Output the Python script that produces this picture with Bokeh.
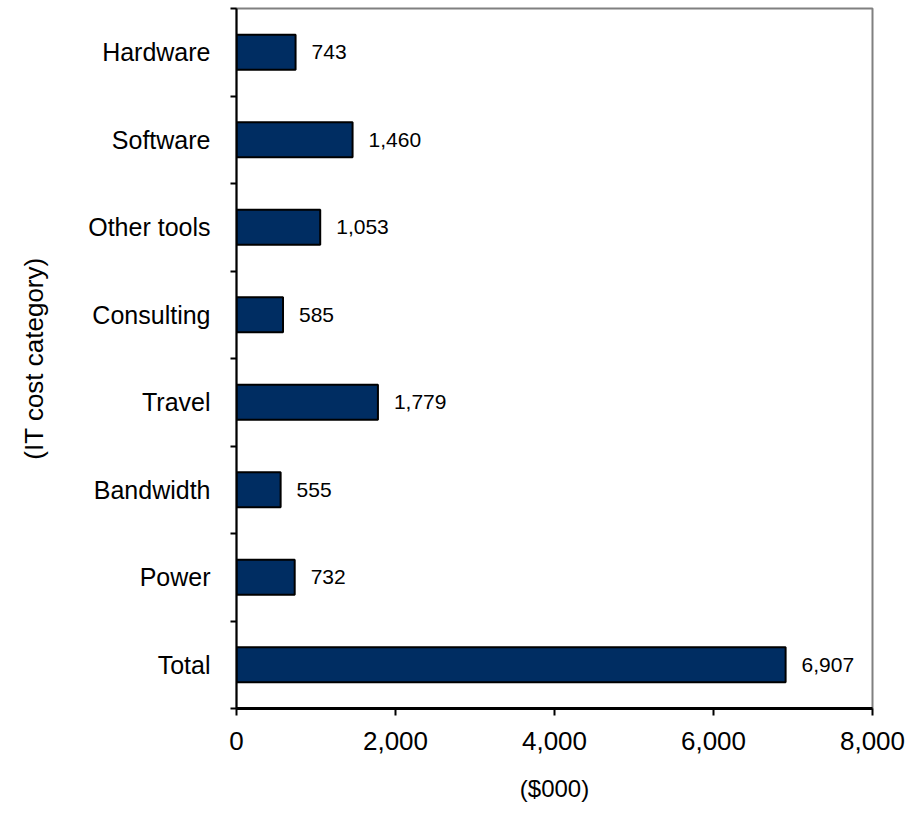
from bokeh.plotting import figure
from bokeh.models import ColumnDataSource, FixedTicker, NumeralTickFormatter, Range1d, LabelSet
from bokeh.core.properties import value
from bokeh.embed import file_html
from bokeh.resources import INLINE

categories = ["Hardware", "Software", "Other tools", "Consulting", "Travel", "Bandwidth", "Power", "Total"]
values = [743, 1460, 1053, 585, 1779, 555, 732, 6907]
x_ticks = [0, 2000, 4000, 6000, 8000]

n = len(categories)
ypos = [n - i - 0.5 for i in range(n)]
labels = [f"{v:,}" for v in values]

src = ColumnDataSource(dict(y=ypos, v=values, lab=labels, cat=categories))

FONT = "Liberation Sans"

p = figure(width=907, height=817, output_backend="svg", toolbar_location=None,
           x_range=Range1d(0, 8000), y_range=Range1d(0, n),
           min_border_left=236, min_border_right=35, min_border_top=8, min_border_bottom=109)

p.hbar(y="y", right="v", left=0, height=0.4, source=src,
       fill_color="#002D62", line_color="black", line_width=2)

p.add_layout(LabelSet(x="v", y="y", text="lab", source=src, x_offset=16,
                      text_font=value(FONT), text_font_size="21px", text_color="black",
                      text_baseline="middle", text_align="left"))

p.xgrid.visible = False
p.ygrid.visible = False
p.outline_line_color = "#808080"
p.outline_line_width = 2

# x axis
xa = p.xaxis[0]
xa.ticker = FixedTicker(ticks=x_ticks)
xa.formatter = NumeralTickFormatter(format="0,0")
xa.minor_tick_line_color = None
xa.major_tick_in = 0
xa.major_tick_out = 7
xa.major_tick_line_width = 2
xa.axis_line_width = 3
xa.axis_line_color = "black"
xa.major_tick_line_color = "black"
xa.major_label_text_font = FONT
xa.major_label_text_font_size = "26px"
xa.major_label_text_color = "black"
xa.major_label_standoff = 16
xa.axis_label = "($000)"
xa.axis_label_text_font = FONT
xa.axis_label_text_font_size = "24px"
xa.axis_label_text_font_style = "normal"
xa.axis_label_text_color = "black"
xa.axis_label_standoff = 22

# y axis
ya = p.yaxis[0]
ya.ticker = FixedTicker(ticks=ypos, minor_ticks=list(range(n + 1)))
ya.major_label_overrides = {y: c for y, c in zip(ypos, categories)}
ya.major_tick_in = 0
ya.major_tick_out = 0
ya.minor_tick_in = 0
ya.minor_tick_out = 6
ya.minor_tick_line_width = 2
ya.minor_tick_line_color = "black"
ya.axis_line_width = 2
ya.axis_line_color = "black"
ya.major_label_text_font = FONT
ya.major_label_text_font_size = "25px"
ya.major_label_text_color = "black"
ya.major_label_standoff = 20
ya.axis_label = "(IT cost category)"
ya.axis_label_text_font = FONT
ya.axis_label_text_font_size = "26px"
ya.axis_label_text_font_style = "normal"
ya.axis_label_text_color = "black"
ya.axis_label_standoff = 36

open("out.html", "w").write(file_html(p, INLINE))
